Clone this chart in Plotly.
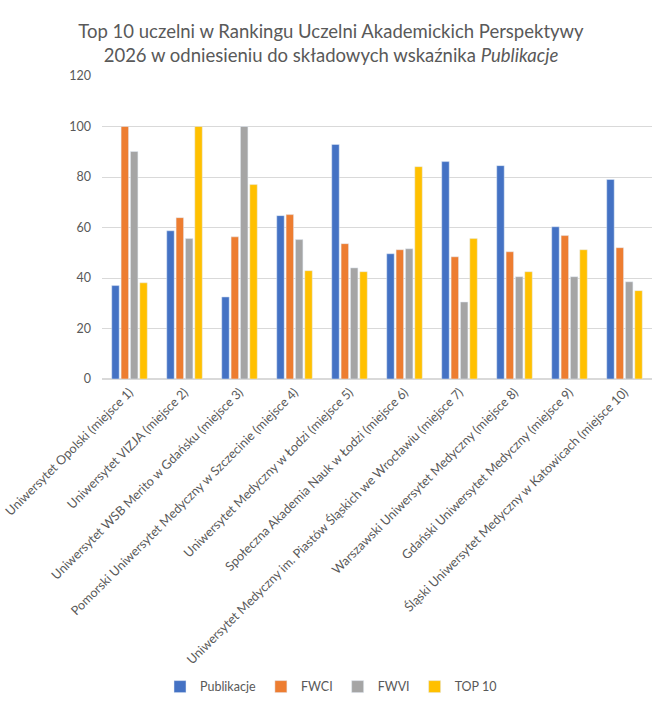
import plotly.graph_objects as go

# -----------------------
# DATA
# -----------------------
uczelnie = [
    "Uniwersytet Opolski (miejsce 1)",
    "Uniwersytet VIZJA (miejsce 2)",
    "Uniwersytet WSB Merito w Gdańsku (miejsce 3)",
    "Pomorski Uniwersytet Medyczny w Szczecinie (miejsce 4)",
    "Uniwersytet Medyczny w Łodzi (miejsce 5)",
    "Społeczna Akademia Nauk w Łodzi (miejsce 6)",
    "Uniwersytet Medyczny im. Piastów Śląskich we Wrocławiu (miejsce 7)",
    "Warszawski Uniwersytet Medyczny (miejsce 8)",
    "Gdański Uniwersytet Medyczny (miejsce 9)",
    "Śląski Uniwersytet Medyczny w Katowicach (miejsce 10)",
]

publikacje = [37.0, 58.7, 32.5, 64.7, 92.9, 49.6, 86.1, 84.5, 60.3, 79.0]
fwci = [100.0, 63.9, 56.3, 65.1, 53.6, 51.2, 48.4, 50.4, 56.8, 52.0]
fwvi = [90.1, 55.6, 100.0, 55.2, 44.0, 51.6, 30.5, 40.5, 40.5, 38.5]
top10 = [38.1, 100.0, 77.0, 42.9, 42.5, 84.1, 55.6, 42.5, 51.2, 35.0]

series = [
    ("Publikacje", publikacje, "#4472C4"),
    ("FWCI", fwci, "#ED7D31"),
    ("FWVI", fwvi, "#A5A5A5"),
    ("TOP 10", top10, "#FFC000"),
]

FONT = "Lato, Open Sans, sans-serif"
GREY = "#595959"

# -----------------------
# FIGURE
# -----------------------
fig = go.Figure()

for name, vals, color in series:
    fig.add_trace(go.Bar(x=uczelnie, y=vals, name=name, marker_color=color))

fig.update_layout(
    width=662, height=708,
    plot_bgcolor="white", paper_bgcolor="white",
    barmode="group", bargap=0.32, bargroupgap=0.2,
    font=dict(family=FONT, color=GREY, size=12),
    title=dict(
        text="Top 10 uczelni w Rankingu Uczelni Akademickich Perspektywy<br>"
             "2026 w odniesieniu do składowych wskaźnika <i>Publikacje</i>",
        x=0.5, xanchor="center", y=0.9458, yanchor="middle",
        font=dict(size=18.5, color=GREY, family=FONT),
    ),
    margin=dict(l=102, r=10, t=76, b=329),
    legend=dict(
        orientation="h", xref="container", x=0.5, xanchor="center",
        yref="container", y=0.0297, yanchor="middle",
        font=dict(size=12.5, color=GREY), itemwidth=30,
    ),
    showlegend=True,
)

fig.update_yaxes(
    range=[0, 120], dtick=20, showgrid=True, gridcolor="#D9D9D9",
    zeroline=True, zerolinecolor="#D9D9D9", showline=False,
    tickfont=dict(size=12.5, color=GREY), ticklabelstandoff=10,
)
fig.update_xaxes(
    tickangle=-45, showline=True, linecolor="#D9D9D9",
    tickfont=dict(size=12.6, color=GREY), automargin=False,
)

# drop the default 8px page margin so the figure fills the window
fig.write_html(
    "out.html",
    config={"displayModeBar": False},
    post_script="document.body.style.margin = '0px';",
)
